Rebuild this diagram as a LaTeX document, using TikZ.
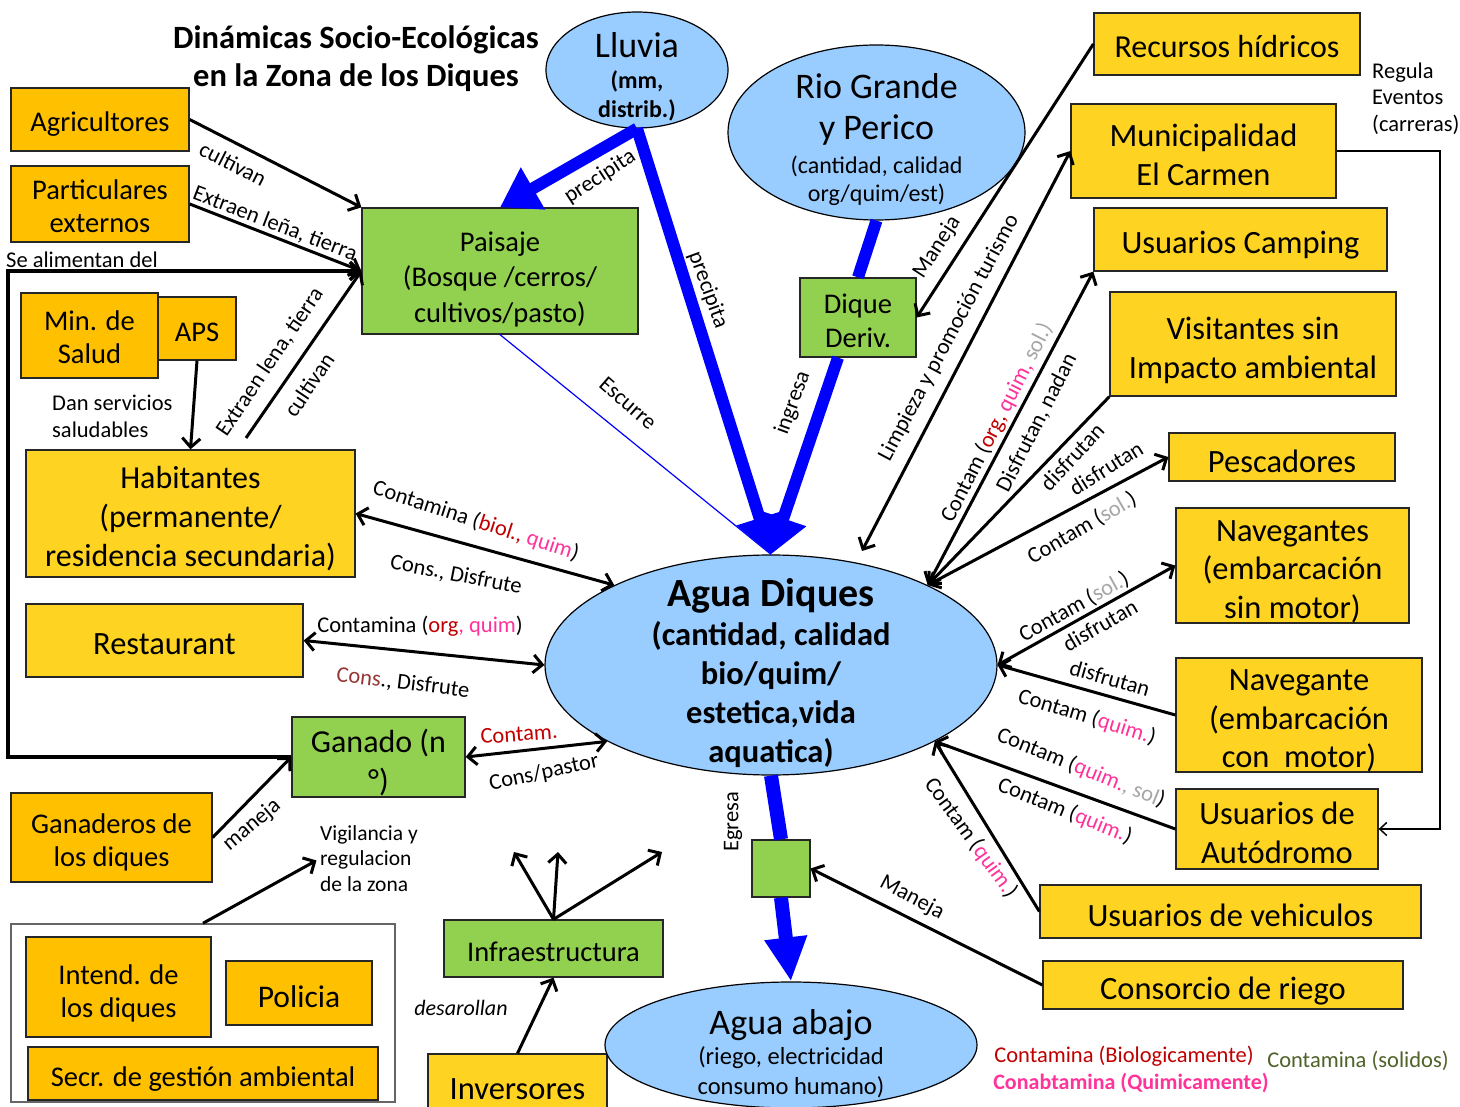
\documentclass[tikz,border=0pt]{standalone}
\usepackage{fontspec}
\setmainfont{Carlito}
\usetikzlibrary{arrows.meta,shapes.geometric,calc}
\definecolor{cgold}{HTML}{FFC000}
\definecolor{cyel}{HTML}{FFD321}
\definecolor{cgreen}{HTML}{92D050}
\definecolor{cblue}{HTML}{99CCFF}
\definecolor{cred}{HTML}{C00000}
\definecolor{cpink}{HTML}{FF3399}
\definecolor{cgrey}{HTML}{A6A6A6}
\definecolor{cbrown}{HTML}{953735}
\definecolor{colive}{HTML}{4F6228}
\tikzset{
 bx/.style={draw=black!85,line width=1.3pt,inner sep=0pt},
 gbx/.style={bx,fill=cgold},
 ybx/.style={bx,fill=cyel},
 vbx/.style={bx,fill=cgreen},
 tx/.style={align=center,inner sep=0pt},
 ell/.style={ellipse,draw=black,line width=1.2pt,fill=cblue,inner sep=0pt},
 ft28/.style={font=\fontsize{28.5}{33}\selectfont},
 ftR/.style={font=\fontsize{32.5}{38.5}\selectfont},
 ft32/.style={font=\fontsize{32}{39}\selectfont},
 lb/.style={font=\fontsize{22.5}{27}\selectfont,inner sep=0pt,align=center},
 bk/.tip={Straight Barb[length=9pt,width=18pt]},
 bhead/.tip={Triangle[length=38pt,width=46pt]},
 arr/.style={line width=3pt,-bk},
 darr/.style={line width=3pt,bk-bk},
 bl/.style={draw=blue,line width=12pt},
}
\begin{document}
\begin{tikzpicture}[x=1pt,y=-1pt]
\useasboundingbox (0,0) rectangle (1460,1107);
\fill[white] (0,0) rectangle (1460,1107);

% title
\node[font=\bfseries\fontsize{32.5}{38}\selectfont,align=center,inner sep=0pt] (title) at (356,59) {Dinámicas Socio-Ecológicas\\en la Zona de los Diques};

% left boxes
\node[gbx,minimum width=178,minimum height=63] (agri) at (100,119.5) {};
\node[tx,ft28] (agriT) at ([yshift=-5pt]agri.center) {Agricultores};
\node[gbx,minimum width=178,minimum height=76] (part) at (100,204) {};
\node[tx,ft28] (partT) at ([yshift=-2pt]part.center) {Particulares\\externos};
\node[gbx,minimum width=137,minimum height=85] (minsal) at (89.5,335.5) {};
\node[tx,ft28] (minsalT) at ([yshift=-2pt]minsal.center) {Min. de\\Salud};
\node[gbx,minimum width=78,minimum height=63] (aps) at (197,328.5) {};
\node[tx,ft28] (apsT) at ([yshift=-4pt]aps.center) {APS};
\node[ybx,minimum width=329,minimum height=127] (hab) at (190.5,513.5) {};
\node[tx,ft32] (habT) at ([yshift=-5pt]hab.center) {Habitantes\\(permanente/\\residencia secundaria)};
\node[ybx,minimum width=277,minimum height=73] (rest) at (164.5,640.5) {};
\node[tx,ftR] (restT) at ([yshift=-4pt]rest.center) {Restaurant};
\node[vbx,minimum width=173,minimum height=80] (gan) at (378.5,757) {};
\node[tx,ft32] (ganT) at ([yshift=-6pt]gan.center) {Ganado (n\\°)};
\node[gbx,minimum width=201,minimum height=89] (gand) at (111.5,837.5) {};
\node[tx,ft28] (gandT) at ([yshift=-5pt]gand.center) {Ganaderos de\\los diques};
\node[draw=black!60,line width=1.5pt,fill=white,minimum width=384,minimum height=178,inner sep=0pt] (grp) at (203,1013) {};
\node[gbx,minimum width=185,minimum height=100] (intend) at (118.5,987) {};
\node[tx,ft28] (intendT) at ([yshift=-6pt]intend.center) {Intend. de\\los diques};
\node[gbx,minimum width=146,minimum height=64] (pol) at (299,993) {};
\node[tx,font=\fontsize{31.5}{38}\selectfont] (polT) at ([yshift=-4pt]pol.center) {Policia};
\node[gbx,minimum width=350,minimum height=53] (secr) at (203,1073.5) {};
\node[tx,ft28] (secrT) at ([yshift=-6pt]secr.center) {Secr. de gestión ambiental};
\node[vbx,minimum width=219,minimum height=57] (infra) at (553.5,948.5) {};
\node[tx,ft28] (infraT) at ([yshift=-3pt]infra.center) {Infraestructura};
\node[ybx,minimum width=179,minimum height=71] (inv) at (517.5,1089.5) {};
\node[tx,ftR] (invT) at (inv.center) {Inversores};
\node[vbx,minimum width=276,minimum height=126] (pais) at (500,271) {};
\node[tx,font=\fontsize{28.5}{35.5}\selectfont] (paisT) at ([yshift=-8pt]pais.center) {Paisaje\\(Bosque /cerros/\\cultivos/pasto)};
\node[vbx,minimum width=116,minimum height=79] (dique) at (858,317.5) {};
\node[tx,font=\fontsize{28.5}{34}\selectfont] (diqueT) at ([yshift=-3pt]dique.center) {Dique\\Deriv.};
\node[vbx,minimum width=58,minimum height=57] (sq) at (781,868.5) {};

% right boxes
\node[ybx,minimum width=266,minimum height=62] (rec) at (1227,44) {};
\node[tx,ft32] (recT) at ([yshift=-3pt]rec.center) {Recursos hídricos};
\node[ybx,minimum width=265,minimum height=94] (mun) at (1203.5,151) {};
\node[tx,ftR] (munT) at ([yshift=-4pt]mun.center) {Municipalidad\\El Carmen};
\node[ybx,minimum width=293,minimum height=63] (camp) at (1240.5,239.5) {};
\node[tx,ftR] (campT) at ([yshift=-6pt]camp.center) {Usuarios Camping};
\node[ybx,minimum width=286,minimum height=104] (vis) at (1253,344) {};
\node[tx,font=\fontsize{32.5}{39}\selectfont] (visT) at ([yshift=-6pt]vis.center) {Visitantes sin\\Impacto ambiental};
\node[ybx,minimum width=226,minimum height=48] (pes) at (1282,457) {};
\node[tx,ftR] (pesT) at ([yshift=-4pt]pes.center) {Pescadores};
\node[ybx,minimum width=233,minimum height=115] (nav1) at (1292.5,565.5) {};
\node[tx,ftR] (nav1T) at ([yshift=-6pt]nav1.center) {Navegantes\\(embarcación\\sin motor)};
\node[ybx,minimum width=246,minimum height=114] (nav2) at (1299,715) {};
\node[tx,ftR] (nav2T) at ([yshift=-6pt]nav2.center) {Navegante\\(embarcación\\con\ \ motor)};
\node[ybx,minimum width=202,minimum height=80] (auto) at (1277,829) {};
\node[tx,font=\fontsize{32.5}{39}\selectfont] (autoT) at ([yshift=-4pt]auto.center) {Usuarios de\\Autódromo};
\node[ybx,minimum width=381,minimum height=53] (veh) at (1230.5,911.5) {};
\node[tx,ftR] (vehT) at ([yshift=-4pt]veh.center) {Usuarios de vehiculos};
\node[ybx,minimum width=360,minimum height=48] (cons) at (1223,985) {};
\node[tx,ftR] (consT) at ([yshift=-6pt]cons.center) {Consorcio de riego};

% ellipses
\node[ell,minimum width=182,minimum height=116] (lluv) at (637,70) {};
\node[ell,minimum width=297,minimum height=175] (rio) at (876.5,132.5) {};
\node[ell,minimum width=452,minimum height=220] (diq) at (771,665) {};
\node[ell,minimum width=372,minimum height=126] (abajo) at (791,1045) {};

\node[font=\bfseries\fontsize{24}{29}\selectfont,align=center,inner sep=0pt] (lluvT) at (637,77) {{\mdseries\fontsize{36}{36}\selectfont Lluvia}\\[2pt](mm,\\distrib.)};
\node[font=\fontsize{24}{28}\selectfont,align=center,inner sep=0pt] (rioT) at (876.5,139.5) {{\fontsize{36}{36}\selectfont Rio Grande}\\[13pt]{\fontsize{36}{36}\selectfont y Perico}\\[6pt](cantidad, calidad\\org/quim/est)};
\node[font=\bfseries\fontsize{32.5}{39}\selectfont,align=center,inner sep=0pt] (diqT) at (771,673) {{\fontsize{40}{39}\selectfont Agua Diques}\\(cantidad, calidad\\bio/quim/\\estetica,vida\\aquatica)};
\node[font=\fontsize{24.5}{30}\selectfont,align=center,inner sep=0pt] (abajoT) at (791,1054) {{\fontsize{36}{30}\selectfont Agua abajo}\\(riego, electricidad\\consumo humano)};

% free text
\node[lb,anchor=west] (alim) at (6,260) {Se alimentan del};
\node[lb,anchor=west,align=left,font=\fontsize{22.5}{27}\selectfont] (dan) at (52,416.5) {Dan servicios\\saludables};
\node[lb,anchor=west,align=left,font=\fontsize{21.5}{25.5}\selectfont] (vig) at (320,858.5) {Vigilancia y\\regulacion\\de la zona};
\node[lb,anchor=west,align=left,font=\fontsize{22.5}{26.5}\selectfont] (regu) at (1372,98.5) {Regula\\Eventos\\(carreras)};
\node[lb,font=\itshape\fontsize{22}{26}\selectfont] (desa) at (461,1008) {desarollan};
\node[lb,text=cred] (leg1) at (1124,1056) {Contamina (Biologicamente)};
\node[lb,text=cpink,font=\bfseries\fontsize{22}{26}\selectfont] (leg2) at (1131,1083) {Conabtamina (Quimicamente)};
\node[lb,text=colive] (leg3) at (1358,1061) {Contamina (solidos)};

% coordinates
\coordinate (loopC) at (8,271);
\coordinate (habTop) at (246,438);
\coordinate (inf1) at (514,852);
\coordinate (inf2) at (558,852);
\coordinate (inf3) at (662,852);
\coordinate (munEnd) at (862,551);
\coordinate (regC) at (1440,829);

% blue flows
\draw[blue,line width=1.2pt] (pais.south) -- (diq.north);
\draw[bl,-bhead] (lluv.south) -- (pais.north);
\draw[bl,-bhead] (lluv.south) -- (diq.north);
\draw[bl] (rio.south) -- (dique.north);
\draw[bl,-bhead] ($(dique.south)+(-20,0)$) -- (diq.north);
\draw[bl,line width=14pt] (diq.south) -- (sq.north);
\draw[bl,line width=14pt,-{Triangle[length=44pt,width=40pt]}] (sq.south) -- (abajo.north);

% black connectors
\draw[arr] (agri.east) -- (pais.north west);
\draw[arr] (part.east) -- (pais.west);
\draw[arr,line width=3.5pt] (gan.west) -| (loopC) -- (pais.west);
\draw[arr] (habTop) -- (pais.west);
\draw[arr] (aps.south) -- (hab.north);
\draw[darr] (hab.east) -- (diq.153.6);
\draw[darr] (rest.east) -- (diq.west);
\draw[darr] (gan.east) -- (diq.205.3);
\draw[arr] (gand.east) -- (gan.west);
\draw[arr,shorten >=4pt] (grp.north) -- (vig.west);
\draw[arr] (infra.north) -- (inf1);
\draw[arr] (infra.north) -- (inf2);
\draw[arr] (infra.north) -- (inf3);
\draw[arr] (inv.north) -- (infra.south);
\draw[arr] (cons.west) -- (sq.east);
\draw[arr] (rec.west) -- (dique.east);
\draw[darr] (mun.west) -- (munEnd);
\draw[darr] (camp.south west) -- (diq.27);
\draw[arr] (vis.south west) -- (diq.27);
\draw[darr] (pes.west) -- (diq.27);
\draw[darr] (nav1.west) -- (diq.east);
\draw[arr] (nav2.west) -- (diq.east);
\draw[arr] (auto.west) -- (diq.-25.6);
\draw[arr] (veh.west) -- (diq.-25.6);
\draw[line width=1.5pt,-{Straight Barb[length=7pt,width=13pt]}] (mun.east) -| (regC) -- (auto.east);

% connector labels
\node[lb,rotate=-27] (l1) at (233,164) {cultivan};
\node[lb,rotate=-21] (l2) at (275,224) {Extraen leña, tierra};
\node[lb,rotate=56] (l3) at (270,362) {Extraen lena, tierra};
\node[lb,rotate=56] (l4) at (309,385) {cultivan};
\node[lb,rotate=-18] (l5) at (476,521) {Contamina ({\color{cred}biol.,} {\color{cpink}quim})};
\node[lb,rotate=-11] (l6) at (456,575) {Cons., Disfrute};
\node[lb] (l7) at (420,626) {Contamina ({\color{cred}org}{\color{cpink}, quim})};
\node[lb,rotate=-7] (l8) at (403,683) {{\color{cbrown}Cons}., Disfrute};
\node[lb,rotate=4,text=cred] (l9) at (519,734) {Contam.};
\node[lb,rotate=12] (l10) at (544,773) {Cons/pastor};
\node[lb,rotate=40] (l11) at (252,825) {maneja};
\node[lb,rotate=90] (l12) at (733,822) {Egresa};
\node[lb,rotate=33] (l13) at (600,177) {precipita};
\node[lb,rotate=-70] (l14) at (708,290) {precipita};
\node[lb,rotate=-41] (l15) at (628,403) {Escurre};
\node[lb,rotate=70] (l16) at (793,403) {ingresa};
\node[lb,rotate=57] (l17) at (937,247) {Maneja};
\node[lb,rotate=62] (l18) at (949,338) {Limpieza y promoción turismo};
\node[lb,rotate=63] (l19) at (997,423) {Contam ({\color{cred}org,} {\color{cpink}quim,} {\color{cgrey}sol.)}};
\node[lb,rotate=63] (l20) at (1037,423) {Disfrutan, nadan};
\node[lb,rotate=47] (l21) at (1072,457) {disfrutan};
\node[lb,rotate=32] (l22) at (1106,468) {disfrutan};
\node[lb,rotate=30] (l23) at (1082,528) {Contam ({\color{cgrey}sol.})};
\node[lb,rotate=29] (l24) at (1074,607) {Contam ({\color{cgrey}sol.})};
\node[lb,rotate=30] (l25) at (1100,625) {disfrutan};
\node[lb,rotate=-16] (l26) at (1110,678) {disfrutan};
\node[lb,rotate=-17] (l27) at (1087,717) {Contam ({\color{cpink}quim.})};
\node[lb,rotate=-22] (l28) at (1081,768) {Contam ({\color{cpink}quim.}{\color{cgrey}, sol})};
\node[lb,rotate=-22] (l29) at (1065,811) {Contam ({\color{cpink}quim.})};
\node[lb,rotate=-54] (l30) at (971,838) {Contam ({\color{cpink}quim.})};
\node[lb,rotate=-28] (l31) at (912,898) {Maneja};
\end{tikzpicture}
\end{document}
